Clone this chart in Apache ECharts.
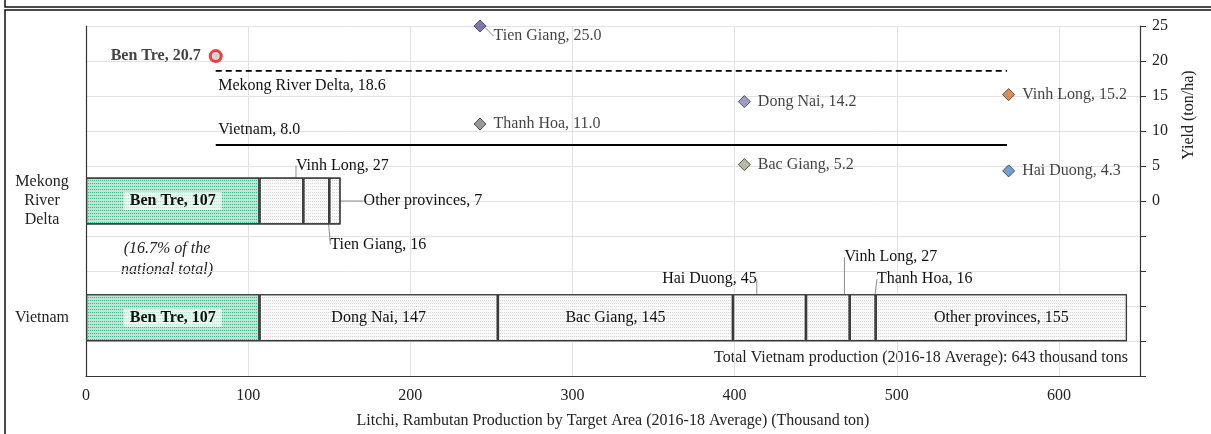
<!DOCTYPE html>
<html>
<head>
<meta charset="utf-8">
<script src="https://cdn.jsdelivr.net/npm/echarts@6/dist/echarts.min.js"></script>
<style>
  html, body { margin: 0; padding: 0; background: #fff; }
  #chart { width: 1211px; height: 434px; }
</style>
</head>
<body>
<div id="chart"></div>
<script>
// rows on the left axis, bottom to top (top one is empty space for the yield points)
var rows = ['Vietnam', 'Mekong\nRiver\nDelta', ''];

var mekongNames = ['Ben Tre', 'Vinh Long', 'Tien Giang', 'Other provinces'];
var mekongValues = [107, 27, 16, 7];

var vietnamNames = ['Ben Tre', 'Dong Nai', 'Bac Giang', 'Hai Duong', 'Vinh Long', 'Thanh Hoa', 'Other provinces'];
var vietnamValues = [107, 147, 145, 45, 27, 16, 155];

// yield (ton/ha) markers, placed along the production axis only for layout
var yieldNames = ['Tien Giang', 'Thanh Hoa', 'Dong Nai', 'Bac Giang', 'Vinh Long', 'Hai Duong'];
var yieldValues = [25.0, 11.0, 14.2, 5.2, 15.2, 4.3];
var yieldX = [243, 243, 406, 406, 569, 569];
var yieldColors = ['#5b5b9c', '#7f7f7f', '#8585bf', '#a3aa8c', '#d2722e', '#4f88c6'];

var benTreYield = 20.7;
var benTreX = 80;

var avgNames = ['Mekong River Delta', 'Vietnam'];
var avgValues = [18.6, 8.0];
var avgFrom = 80;
var avgTo = 568;

var FONT = '"Liberation Serif", "DejaVu Serif", serif';
var FS = 16;

// where the labels of the thin segments go (null = inside the bar)
var mekongPlace = [null, { pos: 'top', dx: 61, dy: 0 }, { pos: 'bottom', dx: 62, dy: 8 }, { pos: 'right', dx: 19, dy: 0 }];
var vietnamPlace = [null, null, null, { pos: 'top', dx: -60, dy: -3 }, { pos: 'top', dx: 63, dy: -25 }, { pos: 'top', dx: 62, dy: -3 }, null];

function barSeries(rowIndex, names, values, places) {
  return names.map(function (name, i) {
    var place = places[i];
    var benTre = name === 'Ben Tre';
    return {
      type: 'bar',
      name: name,
      stack: 'prod',
      barWidth: 47,
      xAxisIndex: 0,
      yAxisIndex: 0,
      data: rows.map(function (r, k) { return k === rowIndex ? values[i] : '-'; }),
      itemStyle: {
        color: benTre ? '#bde7d5' : '#fafafa',
        borderColor: '#3a3a3a',
        borderWidth: 1.2,
        decal: {
          symbol: 'rect',
          symbolSize: 1,
          dashArrayX: [1, 1],
          dashArrayY: [1, 2],
          color: benTre ? '#3cb487' : '#d6d6d6'
        }
      },
      label: {
        show: true,
        position: place ? place.pos : 'inside',
        distance: 4,
        formatter: function () { return name + ', ' + values[i]; },
        fontFamily: FONT,
        fontSize: FS,
        color: '#111',
        fontWeight: benTre ? 'bold' : 'normal',
        backgroundColor: benTre ? 'rgba(255,255,255,0.65)' : 'transparent',
        padding: benTre ? [1, 6] : 0
      },
      labelLayout: place ? { dx: place.dx, dy: place.dy } : null,
      labelLine: { show: !!place, lineStyle: { color: '#8c8c8c', width: 1 } },
      emphasis: { disabled: true }
    };
  });
}

var series = []
  .concat(barSeries(1, mekongNames, mekongValues, mekongPlace))
  .concat(barSeries(0, vietnamNames, vietnamValues, vietnamPlace));

// average yield lines
avgNames.forEach(function (name, i) {
  series.push({
    type: 'line',
    xAxisIndex: 0,
    yAxisIndex: 1,
    symbol: 'circle',
    symbolSize: 1,
    itemStyle: { color: 'rgba(0,0,0,0)' },
    lineStyle: { color: '#000', width: 1.8, type: i === 0 ? [6, 4] : 'solid' },
    data: [
      {
        value: [avgFrom, avgValues[i]],
        label: {
          show: true,
          position: 'right',
          offset: [-3, i === 0 ? 15 : -15],
          formatter: name + ', ' + avgValues[i].toFixed(1),
          fontFamily: FONT,
          fontSize: FS,
          color: '#111'
        }
      },
      [avgTo, avgValues[i]]
    ],
    emphasis: { disabled: true },
    z: 3
  });
});

// province yields
series.push({
  type: 'scatter',
  xAxisIndex: 0,
  yAxisIndex: 1,
  symbol: 'diamond',
  symbolSize: [12, 12],
  data: yieldNames.map(function (n, i) {
    return { name: n, value: [yieldX[i], yieldValues[i]], itemStyle: { color: yieldColors[i] } };
  }),
  itemStyle: { borderColor: '#333', borderWidth: 1 },
  label: {
    show: true,
    position: 'right',
    distance: 7,
    formatter: function (p) { return p.name + ', ' + p.value[1].toFixed(1); },
    fontFamily: FONT,
    fontSize: FS,
    color: '#111'
  },
  labelLayout: function (p) { return p.dataIndex === 0 ? { dx: 0, dy: 10 } : {}; },
  labelLine: { show: false, lineStyle: { color: '#8c8c8c', width: 1 } },
  emphasis: { disabled: true },
  z: 4
});
series[series.length - 1].data[0].labelLine = { show: true };

// Ben Tre yield
series.push({
  type: 'scatter',
  xAxisIndex: 0,
  yAxisIndex: 1,
  symbol: 'circle',
  symbolSize: 11,
  data: [{ name: 'Ben Tre', value: [benTreX, benTreYield] }],
  itemStyle: { color: '#c9c9c9', borderColor: '#e8141b', borderWidth: 3 },
  label: {
    show: true,
    position: 'left',
    distance: 8,
    formatter: function (p) { return p.name + ', ' + p.value[1].toFixed(1); },
    fontFamily: FONT,
    fontSize: FS,
    fontWeight: 'bold',
    color: '#111'
  },
  emphasis: { disabled: true },
  z: 5
});

var option = {
  backgroundColor: '#fff',
  animation: false,
  grid: { left: 86, right: 71, top: 26, bottom: 58, containLabel: false },
  xAxis: [{
    type: 'value',
    min: 0,
    max: 650,
    interval: 100,
    name: 'Litchi, Rambutan Production by Target Area (2016-18 Average) (Thousand ton)',
    nameLocation: 'middle',
    nameGap: 37,
    nameTextStyle: { fontFamily: FONT, fontSize: FS, color: '#222' },
    axisLine: { show: true, onZero: false, lineStyle: { color: '#333', width: 1.2 } },
    axisTick: { show: false },
    axisLabel: { showMaxLabel: false, margin: 12, fontFamily: FONT, fontSize: FS, color: '#222' },
    splitLine: { show: true, lineStyle: { color: '#e2e2e2' } }
  }],
  yAxis: [{
    type: 'category',
    data: rows,
    position: 'left',
    axisLine: { show: true, onZero: false, lineStyle: { color: '#333', width: 1.2 } },
    axisTick: { show: false },
    axisLabel: { align: 'center', margin: 44, lineHeight: 19, fontFamily: FONT, fontSize: FS, color: '#222' },
    splitLine: { show: false }
  }, {
    type: 'value',
    position: 'right',
    min: -25,
    max: 25,
    interval: 5,
    axisLine: { show: true, onZero: false, lineStyle: { color: '#333', width: 1.2 } },
    axisTick: { show: true, inside: false, length: 6, lineStyle: { color: '#333' } },
    axisLabel: {
      margin: 12,
      fontFamily: FONT,
      fontSize: FS,
      color: '#222',
      formatter: function (v) { return v >= 0 ? String(v) : ''; }
    },
    splitLine: { show: true, lineStyle: { color: '#e2e2e2' } }
  }],
  graphic: [
    { type: 'rect', shape: { x: 5, y: -10, width: 1215, height: 17 }, style: { fill: 'none', stroke: '#111', lineWidth: 1.5 }, silent: true },
    { type: 'rect', shape: { x: 5, y: 10, width: 1215, height: 440 }, style: { fill: 'none', stroke: '#111', lineWidth: 1.5 }, silent: true },
    {
      type: 'text', x: 167, y: 238, silent: true,
      style: { text: '(16.7% of the\nnational total)', textAlign: 'center', fontFamily: FONT, fontStyle: 'italic', fontSize: FS, lineHeight: 21, fill: '#222' }
    },
    {
      type: 'text', x: 1128, y: 350, silent: true,
      style: { text: 'Total Vietnam production (2016-18 Average): 643 thousand tons', textAlign: 'right', fontFamily: FONT, fontSize: FS, fill: '#222' }
    },
    {
      type: 'text', x: 1189, y: 115, rotation: Math.PI / 2, silent: true,
      style: { text: 'Yield (ton/ha)', textAlign: 'center', textVerticalAlign: 'middle', fontFamily: FONT, fontSize: FS, fill: '#222' }
    }
  ],
  series: series
};

var chart = echarts.init(document.getElementById('chart'));
chart.setOption(option);
</script>
</body>
</html>
